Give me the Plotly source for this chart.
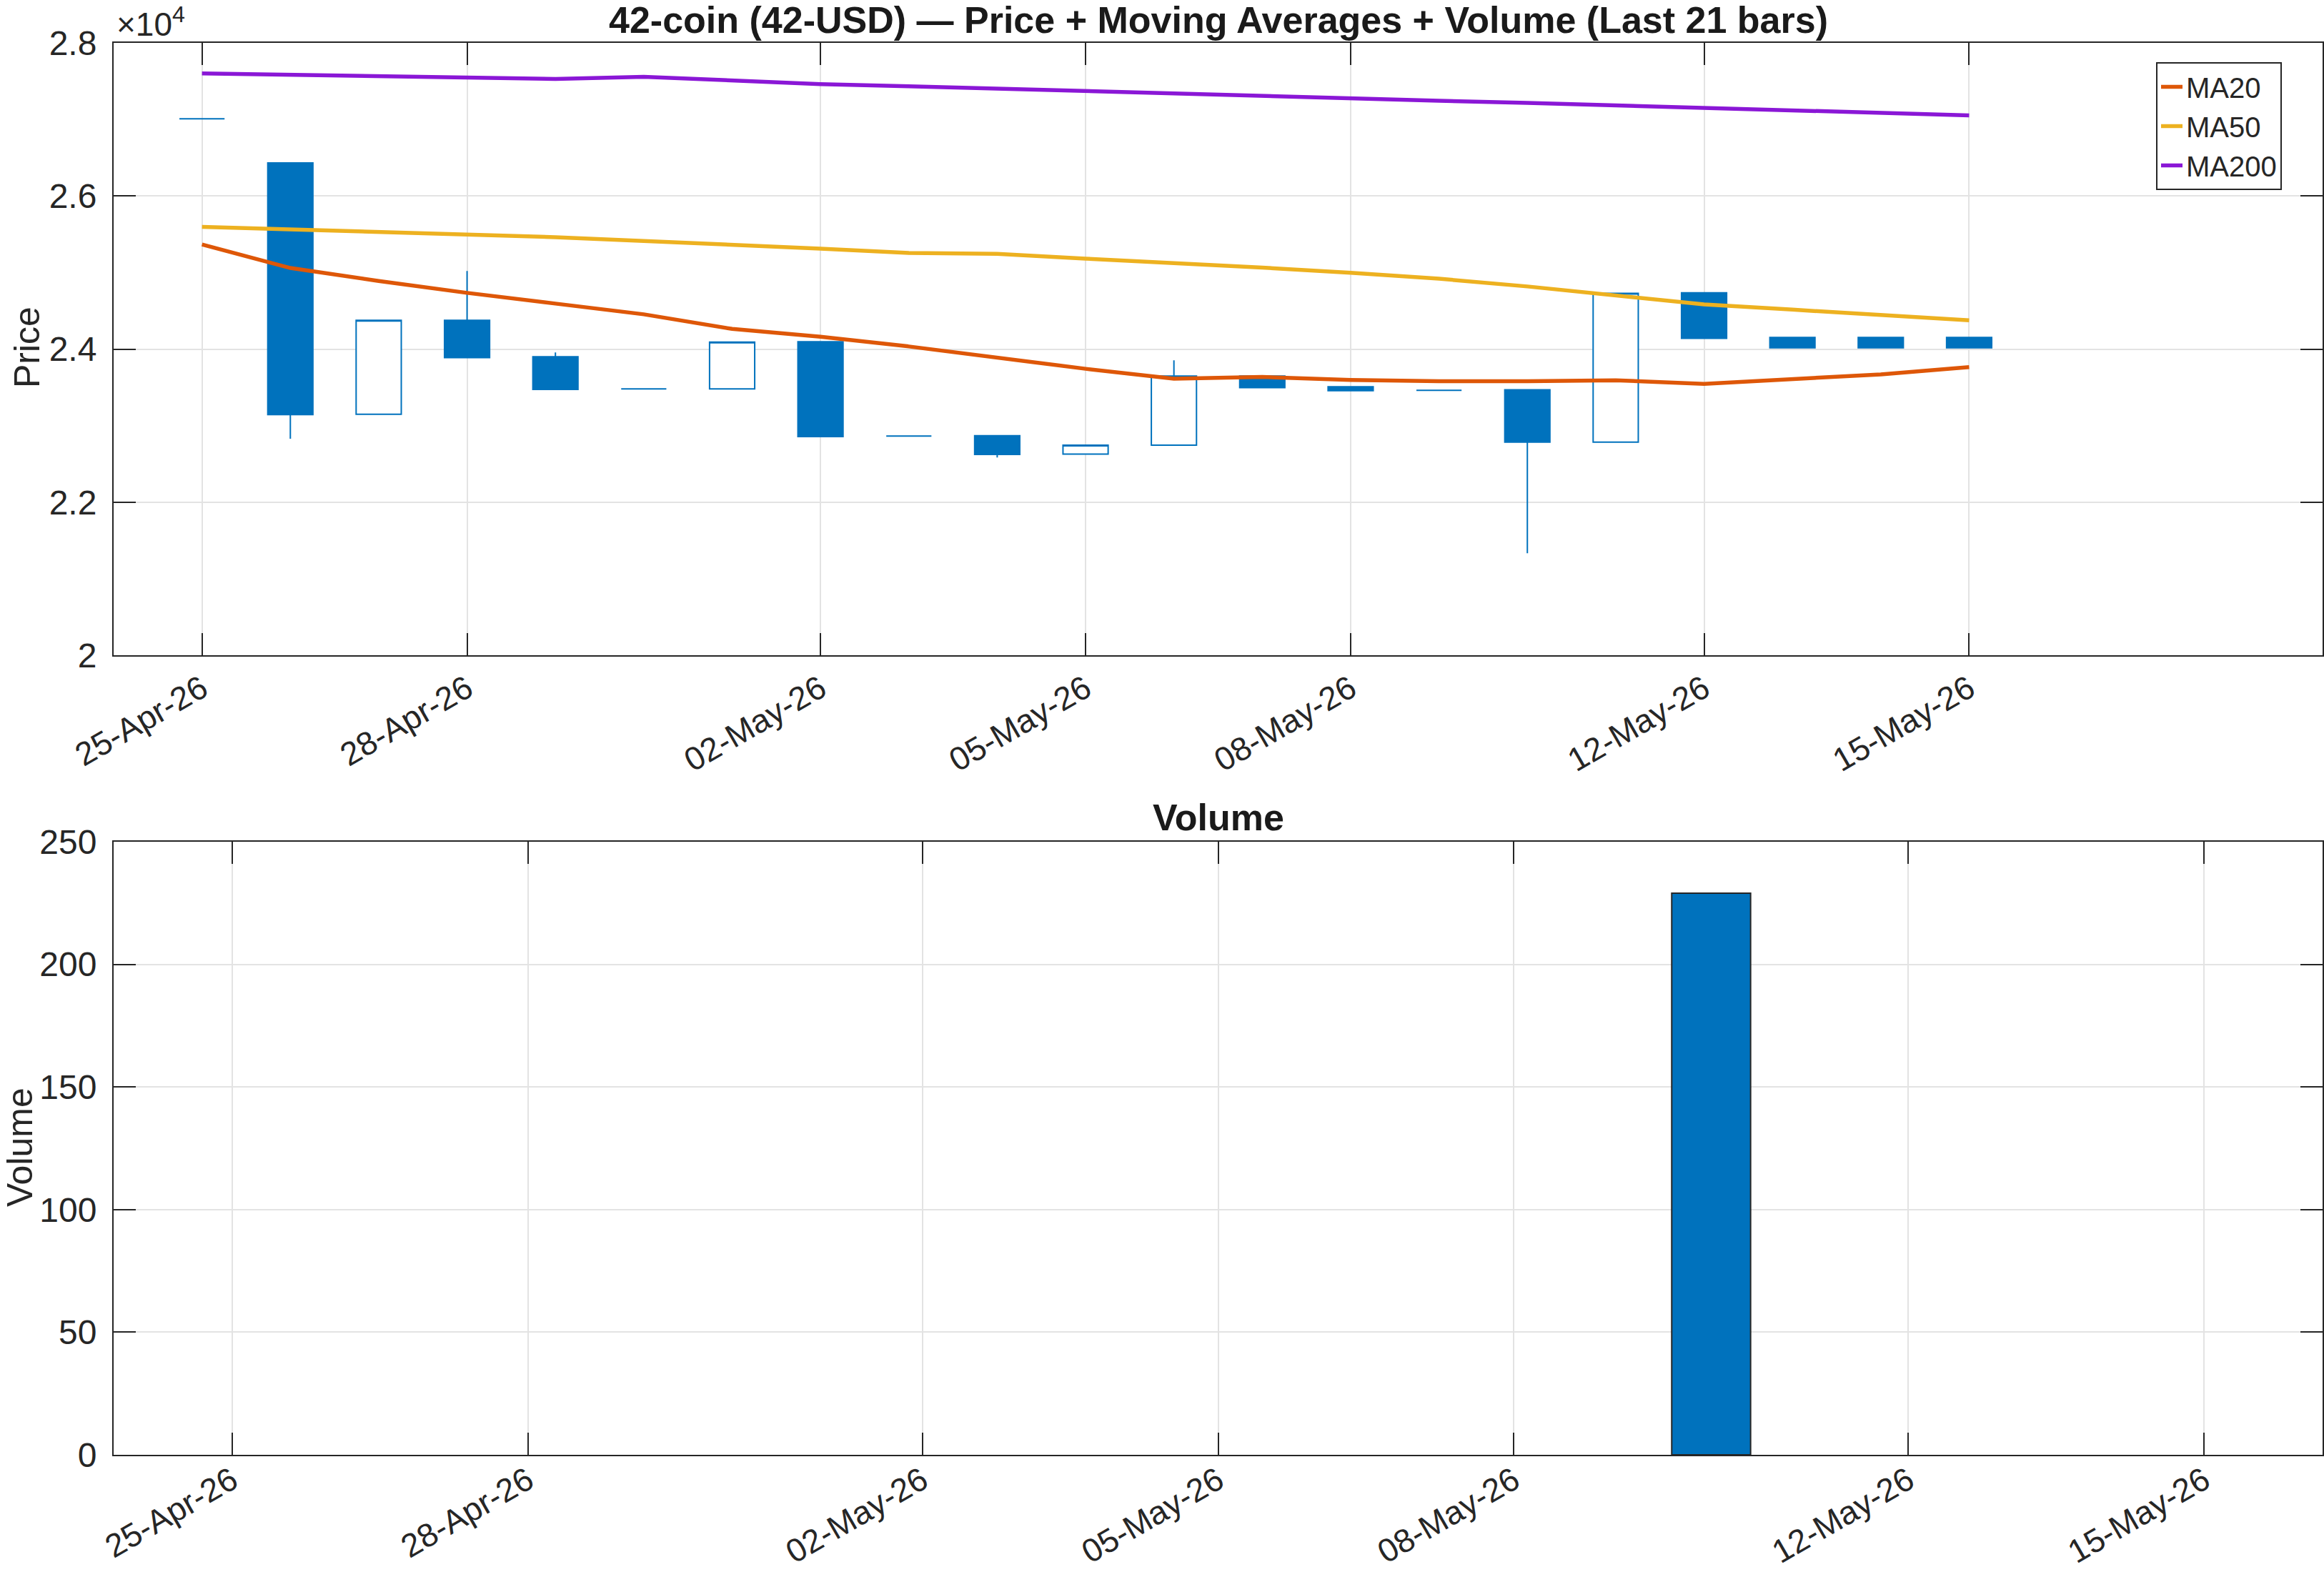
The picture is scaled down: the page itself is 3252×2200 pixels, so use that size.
import plotly.graph_objects as go
import pandas as pd

# ---------------- data ----------------
dates = pd.date_range("2026-04-25", "2026-05-15", freq="D")
open_ = [27008, 26431, 23148, 24375, 23899, 23479, 23479, 24095, 22863, 22868, 22627,
         22745, 23647, 23507, 23462, 23468, 22784, 24734, 24151, 24151, 24151]
high = [27008, 26431, 24375, 25020, 23955, 23479, 24090, 24095, 22863, 22868, 22745,
        23854, 23647, 23507, 23462, 23468, 24728, 24734, 24151, 24151, 24151]
low = [27008, 22829, 23148, 23888, 23473, 23479, 23479, 22857, 22863, 22583, 22627,
       22745, 23496, 23457, 23462, 21333, 22784, 24140, 24017, 24017, 24017]
close = [27008, 23143, 24375, 23888, 23473, 23479, 24090, 22857, 22863, 22622, 22745,
         23647, 23496, 23457, 23462, 22784, 24728, 24140, 24017, 24017, 24017]
ma20 = [25367, 25059, 24890, 24734, 24594, 24454, 24263, 24160, 24034, 23882, 23742,
        23613, 23636, 23597, 23580, 23580, 23591, 23546, 23608, 23669, 23765]
ma50 = [25597, 25563, 25529, 25507, 25462, 25412, 25367, 25311, 25255, 25244, 25182,
        25126, 25064, 24997, 24919, 24818, 24695, 24583, 24515, 24443, 24375]
ma200 = [27602, 27585, 27569, 27552, 27529, 27557, 27513, 27462, 27434, 27401, 27373,
         27345, 27311, 27277, 27244, 27216, 27182, 27154, 27120, 27087, 27053]
volume = [0, 0, 0, 0, 0, 0, 0, 0, 0, 0, 0, 0, 0, 0, 0, 229, 0, 0, 0, 0, 0]

tick_dates = ["2026-04-25", "2026-04-28", "2026-05-02", "2026-05-05",
              "2026-05-08", "2026-05-12", "2026-05-15"]
tick_labels = ["25-Apr-26", "28-Apr-26", "02-May-26", "05-May-26",
               "08-May-26", "12-May-26", "15-May-26"]
price_ticks = [20000, 22000, 24000, 26000, 28000]
price_tick_labels = ["2", "2.2", "2.4", "2.6", "2.8"]
volume_ticks = [0, 50, 100, 150, 200, 250]

# ---------------- style ----------------
BLUE = "#0072BD"
C_MA20 = "#DE5708"
C_MA50 = "#EDB120"
C_MA200 = "#8A17D6"
AX = "#262626"
GRID = "#E3E3E3"
FONT = "Liberation Sans, Arial, sans-serif"

fig = go.Figure()
fig.add_trace(go.Candlestick(
    x=dates, open=open_, high=high, low=low, close=close,
    increasing=dict(line=dict(color=BLUE, width=2), fillcolor="white"),
    decreasing=dict(line=dict(color=BLUE, width=2), fillcolor=BLUE),
    whiskerwidth=0, showlegend=False, xaxis="x", yaxis="y", hoverinfo="skip"))

for name, vals, col in [("MA20", ma20, C_MA20), ("MA50", ma50, C_MA50), ("MA200", ma200, C_MA200)]:
    fig.add_trace(go.Scatter(x=dates, y=vals, mode="lines", name=name,
                             line=dict(color=col, width=5.5), xaxis="x", yaxis="y"))

# outline only drawn on non-empty bars (zero-height bars are invisible in the reference)
bar_edge = [2 if v > 0 else 0 for v in volume]
fig.add_trace(go.Bar(x=dates, y=volume, width=0.8 * 86400000,
                     marker=dict(color=BLUE, line=dict(color=AX, width=bar_edge)),
                     showlegend=False, xaxis="x2", yaxis="y2"))

L, R, T, B = 159, 2, 60, 164
W, H = 3252, 2200
PH = H - T - B
PW = W - L - R


def py(px):  # pixel from top -> paper y
    return (H - B - px) / PH


def px_(x):  # pixel from left -> paper x
    return (x - L) / PW


axis_common = dict(showline=True, linecolor=AX, linewidth=2, mirror="ticks",
                   ticks="inside", ticklen=31, tickwidth=2, tickcolor=AX,
                   showgrid=True, gridcolor=GRID, gridwidth=2, zeroline=False,
                   automargin=False)
yfont = dict(family=FONT, size=48, color=AX)
xfont = dict(family=FONT, size=46, color=AX)

fig.update_layout(
    width=W, height=H,
    margin=dict(l=L, r=R, t=T, b=B, autoexpand=False),
    paper_bgcolor="white", plot_bgcolor="white",
    font=dict(family=FONT, color=AX),
    boxgap=0.27,
    xaxis=dict(domain=[0, 1], anchor="y", type="date",
               range=["2026-04-24", "2026-05-19"],
               tickvals=tick_dates, ticktext=tick_labels, tickangle=-30,
               tickfont=xfont, rangeslider=dict(visible=False), **axis_common),
    yaxis=dict(domain=[py(917), 1], anchor="x", range=[20000, 28000],
               tickvals=price_ticks, ticktext=price_tick_labels, ticklabelstandoff=12,
               tickfont=yfont, **axis_common),
    xaxis2=dict(domain=[0, 1], anchor="y2", type="date",
                range=["2026-04-23 19:12", "2026-05-16 04:48"],
                tickvals=tick_dates, ticktext=tick_labels, tickangle=-30,
                tickfont=xfont, ticklabelstandoff=-11, **axis_common),
    yaxis2=dict(domain=[0, py(1178)], anchor="x2", range=[0, 250],
                tickvals=volume_ticks, ticklabelstandoff=12, tickfont=yfont,
                **axis_common),
    legend=dict(x=px_(3193), y=py(87), xanchor="right", yanchor="top",
                bgcolor="white", bordercolor=AX, borderwidth=2,
                font=dict(family=FONT, size=40, color=AX)),
    showlegend=True,
)

annotations = [
    dict(text="<b>42-coin (42-USD) — Price + Moving Averages + Volume (Last 21 bars)</b>",
         x=0.5, y=py(28), xref="paper", yref="paper", xanchor="center", yanchor="middle",
         showarrow=False, font=dict(family=FONT, size=52, color="#1a1a1a")),
    dict(text="<b>Volume</b>", x=0.5, y=py(1144), xref="paper", yref="paper",
         xanchor="center", yanchor="middle", showarrow=False,
         font=dict(family=FONT, size=52, color="#1a1a1a")),
    dict(text="Price", x=px_(38), y=py(486), xref="paper", yref="paper", textangle=-90,
         xanchor="center", yanchor="middle", showarrow=False,
         font=dict(family=FONT, size=50, color=AX)),
    dict(text="Volume", x=px_(28), y=py(1606), xref="paper", yref="paper", textangle=-90,
         xanchor="center", yanchor="middle", showarrow=False,
         font=dict(family=FONT, size=50, color=AX)),
    dict(text="×10<sup>4</sup>", x=px_(161), y=py(31), xref="paper", yref="paper",
         xanchor="left", yanchor="middle", showarrow=False,
         font=dict(family=FONT, size=46, color=AX)),
]
fig.update_layout(annotations=annotations)

fig.write_html("out.html")
